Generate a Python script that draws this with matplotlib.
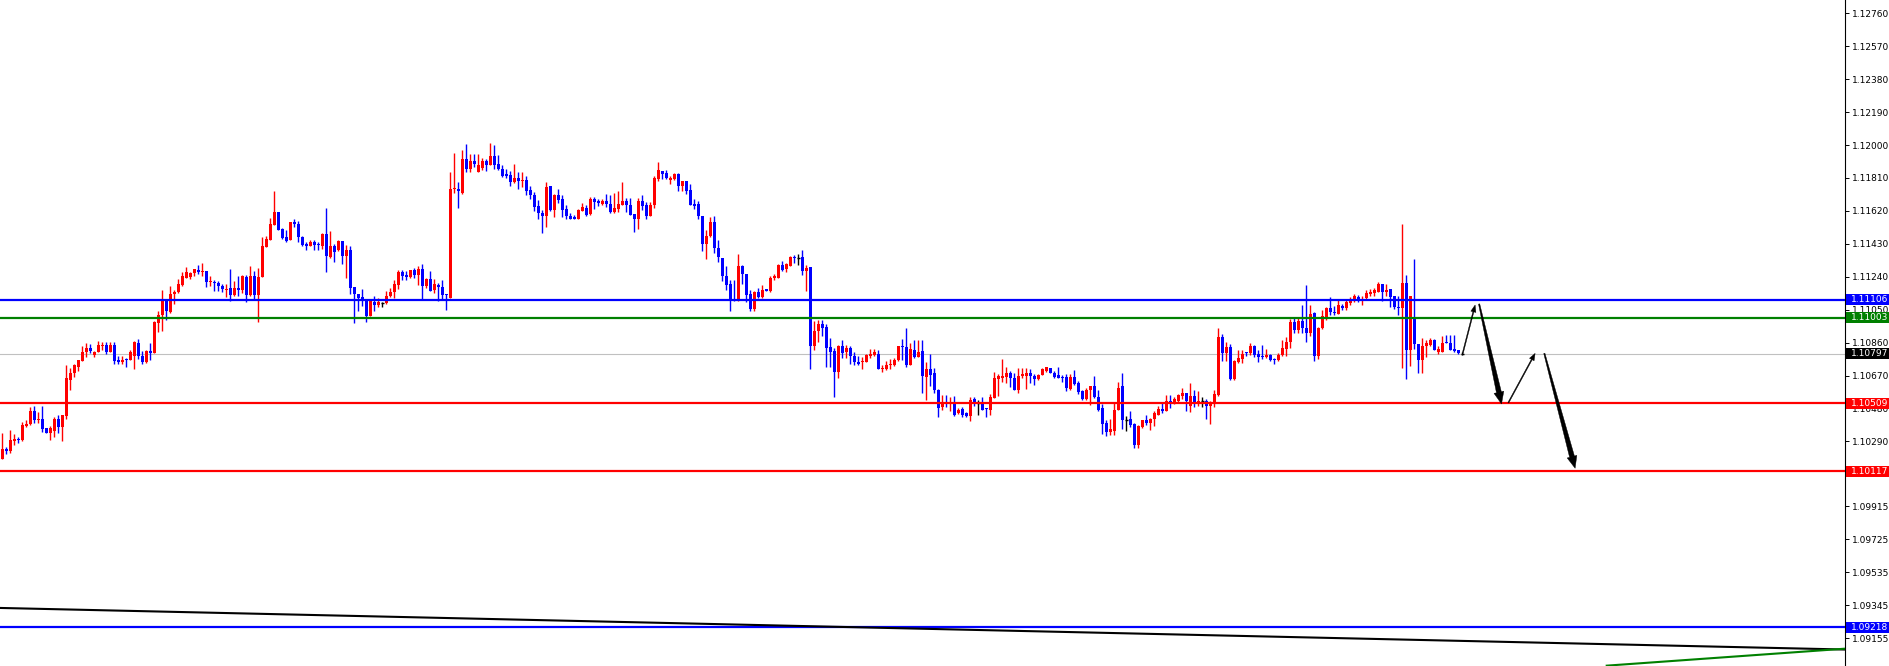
import matplotlib
matplotlib.use("Agg")
import matplotlib.pyplot as plt
from matplotlib.patches import Rectangle, Polygon
import numpy as np

plt.rcParams['font.family'] = ['DejaVu Sans']

# ---------------- data (candles) ----------------
opens = [
1.10186, 1.10248, 1.10232, 1.10292, 1.10303, 1.10296, 1.10378, 1.10388, 1.10468, 1.10411,
1.10422, 1.10365, 1.10338, 1.10349, 1.10417, 1.10374, 1.10436, 1.10647, 1.10685, 1.10722,
1.10756, 1.10803, 1.10829, 1.10787, 1.10806, 1.10843, 1.10849, 1.10806, 1.10849, 1.10758,
1.10747, 1.10766, 1.10760, 1.10785, 1.10858, 1.10785, 1.10747, 1.10814, 1.10801, 1.10973,
1.11018, 1.11104, 1.11039, 1.11139, 1.11150, 1.11194, 1.11235, 1.11236, 1.11259, 1.11279,
1.11265, 1.11275, 1.11208, 1.11211, 1.11204, 1.11188, 1.11165, 1.11177, 1.11133, 1.11177,
1.11162, 1.11240, 1.11137, 1.11246, 1.11133, 1.11236, 1.11413, 1.11453, 1.11540, 1.11615,
1.11513, 1.11471, 1.11453, 1.11555, 1.11546, 1.11469, 1.11427, 1.11419, 1.11442, 1.11430,
1.11419, 1.11488, 1.11355, 1.11419, 1.11392, 1.11448, 1.11357, 1.11396, 1.11183, 1.11142,
1.11123, 1.11108, 1.11016, 1.11096, 1.11075, 1.11089, 1.11089, 1.11127, 1.11150, 1.11190,
1.11269, 1.11248, 1.11236, 1.11277, 1.11248, 1.11283, 1.11185, 1.11225, 1.11162, 1.11190,
1.11183, 1.11139, 1.11117, 1.11745, 1.11747, 1.11722, 1.11920, 1.11864, 1.11908, 1.11847,
1.11870, 1.11908, 1.11887, 1.11937, 1.11891, 1.11860, 1.11834, 1.11828, 1.11784, 1.11809,
1.11795, 1.11799, 1.11739, 1.11711, 1.11647, 1.11607, 1.11588, 1.11761, 1.11626, 1.11709,
1.11690, 1.11632, 1.11592, 1.11586, 1.11576, 1.11622, 1.11638, 1.11603, 1.11690, 1.11680,
1.11657, 1.11680, 1.11661, 1.11611, 1.11632, 1.11655, 1.11680, 1.11655, 1.11603, 1.11576,
1.11678, 1.11655, 1.11588, 1.11653, 1.11805, 1.11851, 1.11841, 1.11797, 1.11807, 1.11835,
1.11761, 1.11793, 1.11738, 1.11661, 1.11657, 1.11592, 1.11427, 1.11473, 1.11555, 1.11407,
1.11350, 1.11246, 1.11200, 1.11108, 1.11102, 1.11304, 1.11258, 1.11142, 1.11056, 1.11154,
1.11123, 1.11171, 1.11156, 1.11231, 1.11235, 1.11309, 1.11283, 1.11304, 1.11355, 1.11350,
1.11352, 1.11271, 1.11298, 1.10839, 1.10929, 1.10970, 1.10949, 1.10837, 1.10814, 1.10689,
1.10843, 1.10804, 1.10831, 1.10785, 1.10751, 1.10747, 1.10751, 1.10783, 1.10789, 1.10797,
1.10707, 1.10708, 1.10730, 1.10730, 1.10758, 1.10843, 1.10835, 1.10731, 1.10820, 1.10779,
1.10814, 1.10662, 1.10707, 1.10682, 1.10589, 1.10488, 1.10516, 1.10509, 1.10513, 1.10455,
1.10478, 1.10451, 1.10436, 1.10532, 1.10513, 1.10516, 1.10482, 1.10474, 1.10541, 1.10649,
1.10655, 1.10664, 1.10687, 1.10658, 1.10586, 1.10666, 1.10666, 1.10682, 1.10670, 1.10649,
1.10676, 1.10695, 1.10716, 1.10682, 1.10676, 1.10664, 1.10662, 1.10593, 1.10662, 1.10628,
1.10578, 1.10532, 1.10586, 1.10607, 1.10547, 1.10480, 1.10394, 1.10347, 1.10351, 1.10470,
1.10607, 1.10413, 1.10417, 1.10388, 1.10268, 1.10372, 1.10411, 1.10394, 1.10417, 1.10445,
1.10478, 1.10468, 1.10526, 1.10518, 1.10526, 1.10551, 1.10572, 1.10497, 1.10551, 1.10507,
1.10522, 1.10522, 1.10493, 1.10516, 1.10557, 1.10895, 1.10801, 1.10837, 1.10651, 1.10747,
1.10768, 1.10808, 1.10799, 1.10843, 1.10797, 1.10785, 1.10776, 1.10791, 1.10766, 1.10758,
1.10791, 1.10824, 1.10862, 1.10981, 1.10935, 1.10987, 1.10947, 1.10914, 1.11031, 1.10785,
1.10943, 1.11000, 1.11062, 1.11039, 1.11027, 1.11069, 1.11058, 1.11089, 1.11108, 1.11125,
1.11098, 1.11117, 1.11142, 1.11146, 1.11154, 1.11200, 1.11150, 1.11167, 1.11127, 1.11067,
1.11058, 1.11206, 1.10820, 1.11006, 1.10854, 1.10758, 1.10839, 1.10849, 1.10877, 1.10804,
1.10808, 1.10864, 1.10858, 1.10826, 1.10816, 1.10797,
]

highs = [
1.10336, 1.10259, 1.10353, 1.10330, 1.10315, 1.10401, 1.10413, 1.10490, 1.10493, 1.10459,
1.10497, 1.10365, 1.10378, 1.10432, 1.10440, 1.10440, 1.10733, 1.10714, 1.10735, 1.10762,
1.10839, 1.10858, 1.10854, 1.10814, 1.10870, 1.10862, 1.10866, 1.10866, 1.10866, 1.10785,
1.10785, 1.10774, 1.10820, 1.10868, 1.10881, 1.10814, 1.10820, 1.10860, 1.10983, 1.11044,
1.11165, 1.11104, 1.11188, 1.11165, 1.11225, 1.11265, 1.11298, 1.11265, 1.11283, 1.11309,
1.11321, 1.11275, 1.11246, 1.11223, 1.11215, 1.11200, 1.11196, 1.11286, 1.11213, 1.11246,
1.11252, 1.11250, 1.11300, 1.11275, 1.11292, 1.11469, 1.11476, 1.11580, 1.11736, 1.11615,
1.11523, 1.11511, 1.11555, 1.11574, 1.11563, 1.11473, 1.11442, 1.11453, 1.11450, 1.11442,
1.11494, 1.11638, 1.11505, 1.11427, 1.11453, 1.11448, 1.11425, 1.11415, 1.11183, 1.11142,
1.11171, 1.11108, 1.11108, 1.11131, 1.11117, 1.11092, 1.11160, 1.11173, 1.11219, 1.11281,
1.11277, 1.11273, 1.11281, 1.11288, 1.11300, 1.11315, 1.11235, 1.11271, 1.11229, 1.11206,
1.11223, 1.11139, 1.11847, 1.11956, 1.11784, 1.11972, 1.12006, 1.11949, 1.11949, 1.11949,
1.11926, 1.11922, 1.12010, 1.12001, 1.11943, 1.11885, 1.11860, 1.11851, 1.11891, 1.11845,
1.11843, 1.11822, 1.11764, 1.11730, 1.11684, 1.11626, 1.11788, 1.11764, 1.11718, 1.11745,
1.11711, 1.11655, 1.11609, 1.11599, 1.11630, 1.11665, 1.11653, 1.11701, 1.11703, 1.11688,
1.11688, 1.11718, 1.11711, 1.11726, 1.11736, 1.11784, 1.11695, 1.11695, 1.11603, 1.11693,
1.11713, 1.11674, 1.11674, 1.11822, 1.11903, 1.11851, 1.11855, 1.11820, 1.11841, 1.11841,
1.11793, 1.11793, 1.11776, 1.11688, 1.11680, 1.11592, 1.11511, 1.11584, 1.11592, 1.11453,
1.11350, 1.11304, 1.11223, 1.11219, 1.11373, 1.11309, 1.11258, 1.11165, 1.11158, 1.11177,
1.11194, 1.11171, 1.11242, 1.11258, 1.11313, 1.11332, 1.11317, 1.11357, 1.11363, 1.11373,
1.11396, 1.11309, 1.11298, 1.10983, 1.10993, 1.10993, 1.10968, 1.10887, 1.10829, 1.10849,
1.10877, 1.10849, 1.10839, 1.10808, 1.10781, 1.10778, 1.10795, 1.10826, 1.10826, 1.10816,
1.10728, 1.10756, 1.10768, 1.10774, 1.10843, 1.10881, 1.10947, 1.10858, 1.10877, 1.10877,
1.10877, 1.10751, 1.10797, 1.10714, 1.10595, 1.10559, 1.10555, 1.10545, 1.10551, 1.10484,
1.10490, 1.10459, 1.10549, 1.10549, 1.10530, 1.10549, 1.10482, 1.10561, 1.10693, 1.10680,
1.10768, 1.10722, 1.10699, 1.10682, 1.10712, 1.10716, 1.10716, 1.10705, 1.10680, 1.10680,
1.10712, 1.10722, 1.10716, 1.10699, 1.10722, 1.10676, 1.10678, 1.10678, 1.10701, 1.10637,
1.10586, 1.10597, 1.10607, 1.10670, 1.10589, 1.10503, 1.10413, 1.10420, 1.10516, 1.10630,
1.10682, 1.10436, 1.10463, 1.10394, 1.10386, 1.10413, 1.10440, 1.10426, 1.10465, 1.10497,
1.10509, 1.10557, 1.10557, 1.10547, 1.10564, 1.10597, 1.10572, 1.10626, 1.10584, 1.10580,
1.10549, 1.10534, 1.10524, 1.10584, 1.10947, 1.10912, 1.10866, 1.10854, 1.10762, 1.10820,
1.10816, 1.10808, 1.10858, 1.10849, 1.10816, 1.10849, 1.10826, 1.10795, 1.10772, 1.10801,
1.10877, 1.10895, 1.10996, 1.11000, 1.11000, 1.11077, 1.11194, 1.11079, 1.11035, 1.10952,
1.11050, 1.11066, 1.11123, 1.11073, 1.11104, 1.11085, 1.11104, 1.11125, 1.11142, 1.11137,
1.11127, 1.11162, 1.11171, 1.11173, 1.11208, 1.11200, 1.11200, 1.11167, 1.11127, 1.11127,
1.11546, 1.11252, 1.11127, 1.11342, 1.10854, 1.10887, 1.10874, 1.10889, 1.10881, 1.10839,
1.10900, 1.10902, 1.10904, 1.10904, 1.10820, 1.10804,
]

lows = [
1.10186, 1.10215, 1.10221, 1.10267, 1.10278, 1.10290, 1.10372, 1.10382, 1.10397, 1.10394,
1.10344, 1.10338, 1.10296, 1.10315, 1.10336, 1.10292, 1.10417, 1.10586, 1.10662, 1.10695,
1.10753, 1.10779, 1.10801, 1.10776, 1.10806, 1.10820, 1.10795, 1.10803, 1.10739, 1.10739,
1.10739, 1.10718, 1.10758, 1.10707, 1.10766, 1.10739, 1.10743, 1.10758, 1.10801, 1.10920,
1.10925, 1.10989, 1.11029, 1.11081, 1.11144, 1.11185, 1.11231, 1.11227, 1.11242, 1.11258,
1.11242, 1.11181, 1.11188, 1.11160, 1.11156, 1.11154, 1.11123, 1.11100, 1.11127, 1.11131,
1.11146, 1.11094, 1.11127, 1.11112, 1.10977, 1.11236, 1.11409, 1.11450, 1.11536, 1.11507,
1.11457, 1.11438, 1.11450, 1.11526, 1.11442, 1.11415, 1.11396, 1.11415, 1.11396, 1.11392,
1.11403, 1.11265, 1.11350, 1.11323, 1.11388, 1.11311, 1.11235, 1.11139, 1.10971, 1.11041,
1.11069, 1.10977, 1.11016, 1.11041, 1.11064, 1.11066, 1.11081, 1.11123, 1.11119, 1.11171,
1.11219, 1.11219, 1.11231, 1.11233, 1.11194, 1.11112, 1.11173, 1.11156, 1.11146, 1.11098,
1.11108, 1.11046, 1.11117, 1.11726, 1.11634, 1.11718, 1.11845, 1.11845, 1.11872, 1.11843,
1.11857, 1.11849, 1.11883, 1.11864, 1.11857, 1.11814, 1.11812, 1.11766, 1.11782, 1.11749,
1.11759, 1.11713, 1.11688, 1.11622, 1.11576, 1.11490, 1.11530, 1.11622, 1.11586, 1.11668,
1.11586, 1.11576, 1.11572, 1.11572, 1.11576, 1.11620, 1.11588, 1.11599, 1.11632, 1.11647,
1.11655, 1.11641, 1.11607, 1.11609, 1.11611, 1.11655, 1.11611, 1.11599, 1.11496, 1.11517,
1.11626, 1.11572, 1.11588, 1.11634, 1.11795, 1.11807, 1.11805, 1.11774, 1.11799, 1.11734,
1.11736, 1.11720, 1.11655, 1.11632, 1.11574, 1.11386, 1.11340, 1.11469, 1.11380, 1.11323,
1.11213, 1.11165, 1.11041, 1.11098, 1.11098, 1.11200, 1.11092, 1.11044, 1.11044, 1.11117,
1.11117, 1.11156, 1.11154, 1.11219, 1.11231, 1.11275, 1.11265, 1.11300, 1.11319, 1.11309,
1.11248, 1.11156, 1.10710, 1.10820, 1.10862, 1.10900, 1.10718, 1.10718, 1.10545, 1.10658,
1.10774, 1.10774, 1.10739, 1.10733, 1.10733, 1.10710, 1.10747, 1.10774, 1.10781, 1.10705,
1.10689, 1.10703, 1.10705, 1.10724, 1.10754, 1.10762, 1.10718, 1.10728, 1.10772, 1.10776,
1.10570, 1.10528, 1.10609, 1.10570, 1.10428, 1.10470, 1.10486, 1.10463, 1.10434, 1.10449,
1.10430, 1.10428, 1.10407, 1.10492, 1.10445, 1.10474, 1.10428, 1.10440, 1.10538, 1.10551,
1.10632, 1.10626, 1.10603, 1.10586, 1.10572, 1.10655, 1.10591, 1.10628, 1.10616, 1.10647,
1.10672, 1.10691, 1.10682, 1.10657, 1.10655, 1.10635, 1.10578, 1.10589, 1.10618, 1.10564,
1.10528, 1.10528, 1.10499, 1.10540, 1.10468, 1.10332, 1.10321, 1.10326, 1.10326, 1.10470,
1.10363, 1.10349, 1.10372, 1.10253, 1.10253, 1.10365, 1.10386, 1.10353, 1.10378, 1.10440,
1.10453, 1.10463, 1.10484, 1.10503, 1.10518, 1.10534, 1.10463, 1.10459, 1.10486, 1.10497,
1.10486, 1.10417, 1.10388, 1.10488, 1.10553, 1.10753, 1.10753, 1.10647, 1.10643, 1.10743,
1.10745, 1.10785, 1.10791, 1.10779, 1.10747, 1.10764, 1.10770, 1.10754, 1.10735, 1.10756,
1.10785, 1.10783, 1.10829, 1.10916, 1.10914, 1.10916, 1.10862, 1.10897, 1.10753, 1.10768,
1.10941, 1.10993, 1.11018, 1.11019, 1.11027, 1.11050, 1.11050, 1.11079, 1.11092, 1.11092,
1.11079, 1.11104, 1.11127, 1.11127, 1.11150, 1.11098, 1.11127, 1.11066, 1.11056, 1.11018,
1.10712, 1.10649, 1.10724, 1.10822, 1.10687, 1.10683, 1.10776, 1.10839, 1.10816, 1.10795,
1.10804, 1.10856, 1.10816, 1.10804, 1.10797, 1.10791,
]

closes = [
1.10244, 1.10234, 1.10296, 1.10303, 1.10296, 1.10382, 1.10390, 1.10468, 1.10413, 1.10422,
1.10359, 1.10338, 1.10365, 1.10417, 1.10374, 1.10440, 1.10653, 1.10685, 1.10731, 1.10762,
1.10808, 1.10829, 1.10810, 1.10806, 1.10849, 1.10849, 1.10808, 1.10849, 1.10753, 1.10749,
1.10762, 1.10762, 1.10808, 1.10862, 1.10781, 1.10747, 1.10814, 1.10801, 1.10977, 1.11021,
1.11104, 1.11041, 1.11142, 1.11154, 1.11200, 1.11242, 1.11267, 1.11261, 1.11283, 1.11265,
1.11275, 1.11208, 1.11213, 1.11204, 1.11185, 1.11169, 1.11171, 1.11133, 1.11177, 1.11162,
1.11244, 1.11137, 1.11246, 1.11137, 1.11240, 1.11419, 1.11457, 1.11546, 1.11615, 1.11507,
1.11463, 1.11448, 1.11555, 1.11542, 1.11469, 1.11425, 1.11419, 1.11442, 1.11423, 1.11421,
1.11488, 1.11357, 1.11419, 1.11384, 1.11448, 1.11357, 1.11392, 1.11173, 1.11139, 1.11117,
1.11098, 1.11016, 1.11108, 1.11075, 1.11092, 1.11089, 1.11131, 1.11154, 1.11196, 1.11269,
1.11242, 1.11236, 1.11277, 1.11248, 1.11283, 1.11185, 1.11225, 1.11160, 1.11196, 1.11181,
1.11133, 1.11135, 1.11747, 1.11753, 1.11732, 1.11920, 1.11864, 1.11908, 1.11891, 1.11887,
1.11908, 1.11885, 1.11937, 1.11887, 1.11864, 1.11824, 1.11824, 1.11784, 1.11809, 1.11795,
1.11799, 1.11732, 1.11709, 1.11645, 1.11607, 1.11588, 1.11759, 1.11626, 1.11709, 1.11684,
1.11626, 1.11588, 1.11576, 1.11576, 1.11626, 1.11641, 1.11599, 1.11690, 1.11674, 1.11663,
1.11680, 1.11657, 1.11611, 1.11638, 1.11661, 1.11680, 1.11653, 1.11599, 1.11576, 1.11680,
1.11649, 1.11588, 1.11655, 1.11811, 1.11857, 1.11835, 1.11809, 1.11811, 1.11834, 1.11761,
1.11793, 1.11732, 1.11655, 1.11647, 1.11588, 1.11427, 1.11476, 1.11555, 1.11405, 1.11352,
1.11242, 1.11194, 1.11108, 1.11102, 1.11300, 1.11254, 1.11137, 1.11056, 1.11154, 1.11121,
1.11165, 1.11160, 1.11235, 1.11242, 1.11309, 1.11281, 1.11313, 1.11352, 1.11346, 1.11350,
1.11271, 1.11292, 1.10839, 1.10929, 1.10970, 1.10947, 1.10831, 1.10808, 1.10689, 1.10843,
1.10801, 1.10831, 1.10781, 1.10747, 1.10739, 1.10751, 1.10789, 1.10797, 1.10803, 1.10707,
1.10716, 1.10731, 1.10735, 1.10762, 1.10843, 1.10833, 1.10730, 1.10826, 1.10779, 1.10808,
1.10670, 1.10710, 1.10676, 1.10589, 1.10482, 1.10513, 1.10509, 1.10516, 1.10440, 1.10474,
1.10445, 1.10434, 1.10530, 1.10505, 1.10513, 1.10474, 1.10476, 1.10549, 1.10653, 1.10666,
1.10670, 1.10687, 1.10655, 1.10586, 1.10670, 1.10678, 1.10687, 1.10666, 1.10649, 1.10676,
1.10705, 1.10718, 1.10684, 1.10660, 1.10655, 1.10658, 1.10597, 1.10662, 1.10624, 1.10574,
1.10532, 1.10589, 1.10607, 1.10547, 1.10474, 1.10388, 1.10347, 1.10359, 1.10474, 1.10601,
1.10413, 1.10413, 1.10382, 1.10268, 1.10378, 1.10411, 1.10394, 1.10422, 1.10453, 1.10478,
1.10468, 1.10526, 1.10520, 1.10532, 1.10557, 1.10572, 1.10522, 1.10551, 1.10509, 1.10524,
1.10522, 1.10493, 1.10516, 1.10561, 1.10895, 1.10801, 1.10837, 1.10651, 1.10756, 1.10774,
1.10793, 1.10799, 1.10843, 1.10789, 1.10779, 1.10779, 1.10791, 1.10758, 1.10760, 1.10791,
1.10831, 1.10866, 1.10981, 1.10935, 1.10987, 1.10943, 1.10914, 1.11027, 1.10781, 1.10947,
1.11012, 1.11062, 1.11035, 1.11029, 1.11075, 1.11058, 1.11094, 1.11110, 1.11131, 1.11098,
1.11104, 1.11148, 1.11154, 1.11162, 1.11200, 1.11150, 1.11165, 1.11123, 1.11064, 1.11062,
1.11206, 1.10820, 1.11127, 1.10852, 1.10758, 1.10843, 1.10858, 1.10877, 1.10820, 1.10822,
1.10858, 1.10856, 1.10820, 1.10810, 1.10801, 1.10797,
]

# horizontal levels
level_prices = [1.11106, 1.11003, 1.10509, 1.10117, 1.09218]
level_colors = ["#0000FF", "#008000", "#FF0000", "#FF0000", "#0000FF"]
bid_price = 1.10797

# price-axis tick labels
tick_values = [1.12760, 1.12570, 1.12380, 1.12190, 1.12000, 1.11810, 1.11620,
               1.11430, 1.11240, 1.11050, 1.10860, 1.10670, 1.10480, 1.10290,
               1.10105, 1.09915, 1.09725, 1.09535, 1.09345, 1.09155]

# trend lines (bar index, price)
black_line_x = [-0.6, 460.7]
black_line_y = [1.09329, 1.09089]
green_line_x = [401.1, 460.7]
green_line_y = [1.08996, 1.09094]

# projected path arrows (bar index, price)
arrow_x0 = [365.1, 369.2, 376.5, 385.5]
arrow_y0 = [1.10798, 1.11083, 1.10513, 1.10798]
arrow_x1 = [368.2, 374.8, 383.2, 393.2]
arrow_y1 = [1.11077, 1.10506, 1.10798, 1.10135]
arrow_thick = [False, True, False, True]

# ---------------- figure ----------------
W, H = 1889, 666
AX_W = 1845
fig = plt.figure(figsize=(W / 100, H / 100), dpi=100)
ax = fig.add_axes([0, 0, AX_W / W, 1])
YMIN, YMAX = 1.08994, 1.12837
ax.set_xlim(-0.583, 460.67)
ax.set_ylim(YMIN, YMAX)
px = (YMAX - YMIN) / H

n = min(len(opens), len(highs), len(lows), len(closes))
o = np.array(opens[:n]); h = np.array(highs[:n])
l = np.array(lows[:n]); c = np.array(closes[:n])
x = np.arange(n)

cols = np.where(c > o, "#FF0000", np.where(c < o, "#0000FF", "#000000"))
doji = c == o

ax.vlines(x, l, h, colors=cols, lw=1.0, zorder=3)
bb = np.minimum(o, c)
bh = np.maximum(np.abs(c - o), px)
nd = ~doji
ax.bar(x[nd], bh[nd], bottom=bb[nd], width=0.76, color=cols[nd], linewidth=0, zorder=4)
ax.hlines(o[doji], x[doji] - 0.4, x[doji] + 0.4, colors="#000000", lw=1.0, zorder=4)

# bid line
ax.axhline(bid_price, color="#C0C0C0", lw=0.8, zorder=2)
# level lines
for p, col in zip(level_prices, level_colors):
    ax.axhline(p, color=col, lw=1.6, zorder=5)

# trend lines
ax.plot(black_line_x, black_line_y, color="#000000", lw=1.5, zorder=5)
ax.plot(green_line_x, green_line_y, color="#008000", lw=1.5, zorder=5)

# arrows
def draw_arrow(x0, y0, x1, y1, thick):
    T = ax.transData
    S = T.transform((x0, y0)); E = T.transform((x1, y1))
    d = E - S
    L = np.hypot(d[0], d[1])
    u = d / L
    nrm = np.array([-u[1], u[0]])
    if thick:
        hl, hw, w0, w1 = 12.0, 5.0, 0.6, 2.5
    else:
        hl, hw, w0, w1 = 7.0, 2.6, 0.5, 0.5
    B = E - u * hl
    pts = [S + nrm * w0, B + nrm * w1, B + nrm * hw, E, B - nrm * hw, B - nrm * w1, S - nrm * w0]
    pts_d = T.inverted().transform(np.array(pts))
    ax.add_patch(Polygon(pts_d, closed=True, fc="#000000", ec="#000000", lw=0.3, zorder=6))

for a, b, cc, dd, t in zip(arrow_x0, arrow_y0, arrow_x1, arrow_y1, arrow_thick):
    draw_arrow(a, b, cc, dd, t)

# axes styling
for s in ["left", "top", "bottom"]:
    ax.spines[s].set_visible(False)
ax.spines["right"].set_color("#000000")
ax.spines["right"].set_linewidth(0.8)
ax.set_xticks([])
ax.yaxis.tick_right()
ax.set_yticks(tick_values)
ax.set_yticklabels([f"{v:.5f}" for v in tick_values])
ax.tick_params(axis="y", direction="out", length=3, width=0.7, pad=2,
               labelsize=6.5, colors="#000000")

# price boxes on the axis
box_x = 1846.5 / AX_W
box_w = (W - 1846.5) / AX_W
box_h = 11 * px
ytr = ax.get_yaxis_transform()
box_prices = level_prices + [bid_price]
box_colors = level_colors + ["#000000"]
for p, col in zip(box_prices, box_colors):
    ax.add_patch(Rectangle((box_x, p - box_h / 2), box_w, box_h, transform=ytr,
                           facecolor=col, edgecolor="none", clip_on=False, zorder=7))
    ax.text(1850.5 / AX_W, p, f"{p:.5f}", transform=ytr, color="#FFFFFF", fontsize=6.5,
            va="center", ha="left", clip_on=False, zorder=8)

fig.savefig("out.png", dpi=100, facecolor="#FFFFFF")
